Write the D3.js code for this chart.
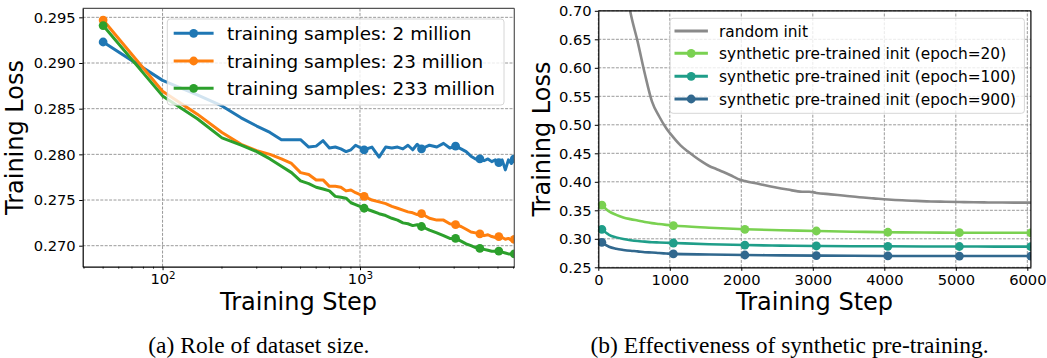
<!DOCTYPE html>
<html>
<head>
<meta charset="utf-8">
<script src="https://cdn.jsdelivr.net/npm/d3@7"></script>
<style>
  body { margin: 0; background: #fff; }
  text { font-family: "DejaVu Sans", sans-serif; fill: #000; }
  .caption { font-family: "Liberation Serif", serif; }
</style>
</head>
<body>
<div id="chart"></div>
<script>
// ---- panel (a): role of dataset size ----
const leftSteps = [50,100,150,200,250,300,350,400,450,500,550,600,650,700,750,800,850,900,950,
  1050,1150,1250,1350,1450,1550,1650,1750,1850,1950,2050,2250,2450,2650,2850,3050,3250,3450,
  3650,3850,4050,4250,4450,4650,4850,5050,5250,5450,5650,5850,6050];
const loss2M = [0.2923,0.2881,0.2865,0.2853,0.2840,0.2831,0.2824,0.2816,0.2816,0.2816,0.2808,0.2809,
  0.2815,0.2807,0.2808,0.2806,0.2803,0.2805,0.2810,0.2805,0.2808,0.2797,0.2808,0.2807,0.2808,0.2806,
  0.2810,0.2805,0.2811,0.2806,0.2810,0.2808,0.2812,0.2807,0.2809,0.2806,0.2803,0.2798,0.2795,0.2795,
  0.2793,0.2795,0.2792,0.2794,0.2791,0.2794,0.2783,0.2794,0.2790,0.2795];
const loss23M = [0.2947,0.2869,0.2844,0.2824,0.2811,0.2804,0.2800,0.2795,0.2790,0.2780,0.2778,0.2772,
  0.2772,0.2765,0.2765,0.2764,0.2760,0.2761,0.2758,0.2754,0.2750,0.2748,0.2746,0.2743,0.2741,0.2739,
  0.2737,0.2736,0.2734,0.2735,0.2730,0.2728,0.2728,0.2724,0.2723,0.2721,0.2718,0.2715,0.2714,0.2713,
  0.2711,0.2712,0.2710,0.2709,0.2710,0.2709,0.2707,0.2708,0.2706,0.2707];
const loss233M = [0.2941,0.2864,0.2839,0.2818,0.2810,0.2803,0.2795,0.2787,0.2780,0.2771,0.2768,0.2764,
  0.2762,0.2760,0.2754,0.2753,0.2752,0.2747,0.2745,0.2741,0.2738,0.2735,0.2733,0.2730,0.2728,0.2725,
  0.2724,0.2722,0.2723,0.2721,0.2717,0.2714,0.2711,0.2708,0.2708,0.2705,0.2702,0.2700,0.2698,0.2697,
  0.2696,0.2695,0.2694,0.2694,0.2694,0.2693,0.2692,0.2691,0.2691,0.2691];
const leftNames = ['training samples: 2 million', 'training samples: 23 million', 'training samples: 233 million'];
const leftColors = ['#1f77b4', '#ff7f0e', '#2ca02c'];
const leftYTicks = [0.270, 0.275, 0.280, 0.285, 0.290, 0.295];
const leftMinor = [40,50,60,70,80,90,200,300,400,500,600,700,800,900,2000,3000,4000,5000,6000];

// ---- panel (b): synthetic pre-training ----
const randSteps = [50,150,250,350,450,550,650,750,850,950,1050,1150,1250,1350,1450,1550,1650,1750,
  1850,1950,2050,2250,2450,2650,2850,2950,3050,3250,3450,3650,3850,4050,4250,4450,4650,4850,5050,
  5250,5450,5650,5850,6050];
const lossRandom = [1.10,0.97,0.86,0.77,0.697,0.646,0.590,0.541,0.515,0.494,0.478,0.464,0.4535,0.444,
  0.4353,0.4277,0.4225,0.4173,0.4115,0.4052,0.4014,0.3962,0.391,0.3864,0.3826,0.3826,0.3805,0.378,
  0.3755,0.373,0.371,0.369,0.3675,0.3665,0.3655,0.365,0.3645,0.364,0.3638,0.3636,0.3635,0.3635];
const preSteps = [50,150,250,350,450,550,650,750,850,950,1050,1550,2050,2550,3050,3550,4050,4550,
  5050,5550,6050];
const lossEp20 = [0.359,0.348,0.342,0.3375,0.3345,0.332,0.3295,0.3275,0.326,0.3245,0.3232,0.3195,
  0.3167,0.315,0.3137,0.3125,0.3115,0.311,0.3107,0.3106,0.3105];
const lossEp100 = [0.3167,0.307,0.3025,0.2995,0.2975,0.296,0.295,0.294,0.2935,0.293,0.2926,0.2905,
  0.289,0.288,0.2874,0.287,0.2868,0.2866,0.2865,0.2863,0.2862];
const lossEp900 = [0.2938,0.286,0.2825,0.2805,0.279,0.278,0.2765,0.276,0.275,0.2742,0.2735,0.2725,
  0.2716,0.271,0.2705,0.2702,0.2699,0.2698,0.2697,0.2697,0.2697];
const rightNames = ['random init', 'synthetic pre-trained init (epoch=20)',
  'synthetic pre-trained init (epoch=100)', 'synthetic pre-trained init (epoch=900)'];
const rightColors = ['#8a8a8a', '#7ad151', '#1f9e89', '#31688e'];
const rightYTicks = [0.25,0.30,0.35,0.40,0.45,0.50,0.55,0.60,0.65,0.70];
const rightXTicks = [0,1000,2000,3000,4000,5000,6000];

const svg = d3.select('#chart').append('svg')
  .attr('width', 1047).attr('height', 358);

const tickFont = 14.7;
const isMarker = s => (s - 50) % 1000 === 0;

// scales
const xL = d3.scaleLog().domain([39.4, 6050]).range([82.7, 514.3]);
const yL = d3.scaleLinear().domain([0.2677, 0.29599]).range([266.7, 8.3]);
const xR = d3.scaleLinear().domain([0, 6050]).range([598.3, 1030.9]);
const yR = d3.scaleLinear().domain([0.25, 0.70]).range([267.3, 10.8]);

function clip(id, x, y) {
  svg.append('clipPath').attr('id', id).append('rect')
    .attr('x', x.range()[0]).attr('y', y.range()[1])
    .attr('width', x.range()[1] - x.range()[0])
    .attr('height', y.range()[0] - y.range()[1]);
}
clip('clipL', xL, yL);
clip('clipR', xR, yR);

// grid
function grid(x, y, xs, ys) {
  const g = svg.append('g');
  g.selectAll('line.gx').data(xs).enter().append('line')
    .attr('x1', d => x(d)).attr('x2', d => x(d))
    .attr('y1', y.range()[0]).attr('y2', y.range()[1]);
  g.selectAll('line.gy').data(ys).enter().append('line')
    .attr('y1', d => y(d)).attr('y2', d => y(d))
    .attr('x1', x.range()[0]).attr('x2', x.range()[1]);
  g.selectAll('line').attr('stroke', '#9a9a9a').attr('stroke-width', 1)
    .attr('stroke-dasharray', '3,1.4');
}
grid(xL, yL, [100, 1000], leftYTicks);
grid(xR, yR, rightXTicks, rightYTicks);

// series
function drawSeries(clipId, x, y, steps, vals, color, width, markers, curve) {
  const pts = steps.map((s, i) => ({s: s, v: vals[i]}));
  const g = svg.append('g').attr('clip-path', `url(#${clipId})`);
  g.append('path').datum(pts)
    .attr('fill', 'none').attr('stroke', color).attr('stroke-width', width)
    .attr('stroke-linejoin', 'round')
    .attr('d', d3.line().x(d => x(d.s)).y(d => y(d.v)).curve(curve));
  if (markers) {
    g.selectAll('circle').data(pts.filter(d => isMarker(d.s))).enter().append('circle')
      .attr('cx', d => x(d.s)).attr('cy', d => y(d.v)).attr('r', 4.4)
      .attr('fill', color);
  }
}
[loss2M, loss23M, loss233M].forEach((vals, i) =>
  drawSeries('clipL', xL, yL, leftSteps, vals, leftColors[i], 3, true, d3.curveLinear));
drawSeries('clipR', xR, yR, randSteps, lossRandom, rightColors[0], 2.6, false, d3.curveMonotoneX);
[lossEp20, lossEp100, lossEp900].forEach((vals, i) =>
  drawSeries('clipR', xR, yR, preSteps, vals, rightColors[i + 1], 2.6, true, d3.curveMonotoneX));

// frames
function frame(x, y, topColor) {
  const [x0, x1] = x.range(), [y0, y1] = y.range();
  svg.append('line').attr('x1', x0).attr('x2', x1).attr('y1', y1).attr('y2', y1)
    .attr('stroke', topColor).attr('stroke-width', 1.2);
  svg.append('line').attr('x1', x1).attr('x2', x1).attr('y1', y1).attr('y2', y0)
    .attr('stroke', topColor).attr('stroke-width', 1.2);
}
frame(xL, yL, '#555');
frame(xR, yR, '#000');

// axes
function styleAxis(g) {
  g.select('.domain').attr('stroke', '#000').attr('stroke-width', 1.2);
  g.selectAll('.tick line').attr('stroke', '#000').attr('stroke-width', 1);
  g.selectAll('.tick text').style('font-size', tickFont + 'px')
    .style('font-family', '"DejaVu Sans", sans-serif').attr('fill', '#000');
}
svg.append('g').attr('transform', `translate(${xL.range()[0]},0)`)
  .call(d3.axisLeft(yL).tickValues(leftYTicks).tickSizeInner(3.5).tickSizeOuter(0)
    .tickPadding(3.5).tickFormat(d3.format('.3f')))
  .call(styleAxis);

const axL = svg.append('g').attr('transform', `translate(0,${yL.range()[0]})`)
  .call(d3.axisBottom(xL).tickValues([100, 1000]).tickSizeInner(3.5).tickSizeOuter(0)
    .tickPadding(3.5).tickFormat(() => ''))
  .call(styleAxis);
axL.selectAll('.tick text').each(function(d) {
  const t = d3.select(this);
  t.append('tspan').text('10');
  t.append('tspan').text(Math.round(Math.log10(d)))
    .attr('dy', '-0.45em').style('font-size', '10.3px');
});
axL.selectAll('line.minor').data(leftMinor).enter().append('line')
  .attr('class', 'minor')
  .attr('x1', d => xL(d)).attr('x2', d => xL(d)).attr('y1', 0).attr('y2', 2)
  .attr('stroke', '#000').attr('stroke-width', 0.8);

svg.append('g').attr('transform', `translate(${xR.range()[0]},0)`)
  .call(d3.axisLeft(yR).tickValues(rightYTicks).tickSizeInner(3.5).tickSizeOuter(0)
    .tickPadding(3.2).tickFormat(d3.format('.2f')))
  .call(styleAxis);
svg.append('g').attr('transform', `translate(0,${yR.range()[0]})`)
  .call(d3.axisBottom(xR).tickValues(rightXTicks).tickSizeInner(3.5).tickSizeOuter(0)
    .tickPadding(3.5).tickFormat(d3.format('d')))
  .call(styleAxis);

// axis labels
function labels(x, y, ylx) {
  const cx = (x.range()[0] + x.range()[1]) / 2;
  const cy = (y.range()[0] + y.range()[1]) / 2;
  svg.append('text').attr('x', cx).attr('y', 310).attr('text-anchor', 'middle')
    .style('font-size', '24px').text('Training Step');
  svg.append('text').attr('transform', `translate(${ylx},${cy}) rotate(-90)`)
    .attr('text-anchor', 'middle').style('font-size', '24px').text('Training Loss');
}
labels(xL, yL, 22.8);
labels(xR, yR, 549.8);

// legends
function legend(x0, y0, w, h, rows, lx1, lx2, tx, fs, names, colors, markerFlags) {
  svg.append('rect').attr('x', x0).attr('y', y0).attr('width', w).attr('height', h)
    .attr('rx', 3).attr('fill', '#fff').attr('fill-opacity', 0.8)
    .attr('stroke', '#d6d6d6').attr('stroke-width', 1);
  names.forEach((n, i) => {
    const ry = rows[i];
    svg.append('line').attr('x1', lx1).attr('x2', lx2).attr('y1', ry).attr('y2', ry)
      .attr('stroke', colors[i]).attr('stroke-width', 3);
    if (markerFlags[i]) {
      svg.append('circle').attr('cx', (lx1 + lx2) / 2).attr('cy', ry).attr('r', 4.4)
        .attr('fill', colors[i]);
    }
    svg.append('text').attr('x', tx).attr('y', ry).attr('dy', '0.36em')
      .style('font-size', fs + 'px').text(n);
  });
}
legend(167.3, 19, 336.7, 86, [33.3, 61, 88.3], 173.7, 213.6, 227, 18.4,
  leftNames, leftColors, [true, true, true]);
legend(670.1, 18.3, 354.3, 95, [31, 53.3, 76.3, 99], 674.5, 707.9, 719, 15.4,
  rightNames, rightColors, [false, true, true, true]);

// captions
svg.append('text').attr('class', 'caption').attr('x', 258.9).attr('y', 353)
  .attr('text-anchor', 'middle').style('font-size', '23.5px')
  .style('font-family', '"Liberation Serif", serif').text('(a) Role of dataset size.');
svg.append('text').attr('class', 'caption').attr('x', 789.6).attr('y', 353)
  .attr('text-anchor', 'middle').style('font-size', '23.5px')
  .style('font-family', '"Liberation Serif", serif').text('(b) Effectiveness of synthetic pre-training.');
</script>
</body>
</html>
